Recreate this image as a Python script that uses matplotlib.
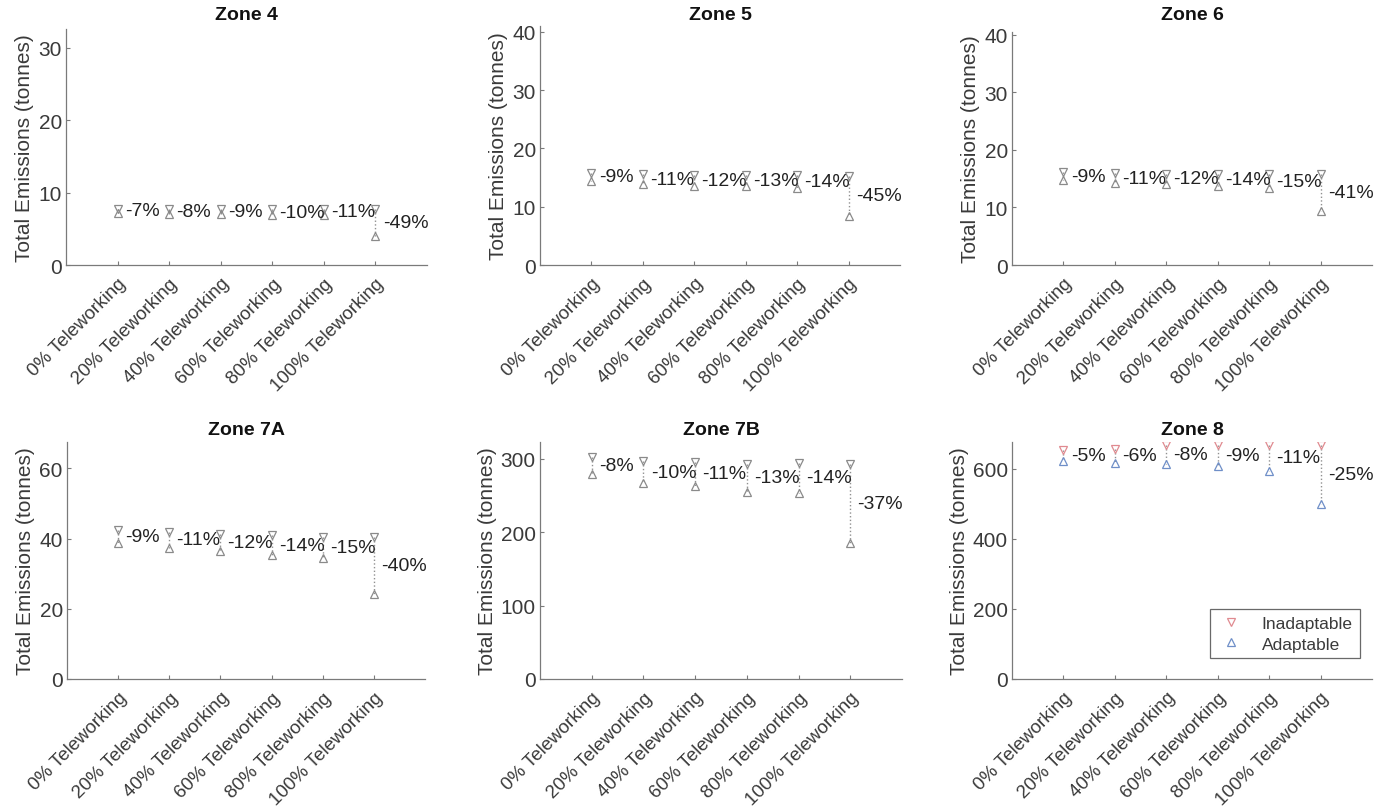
import matplotlib
matplotlib.use("Agg")
import matplotlib.pyplot as plt
from matplotlib.lines import Line2D
from matplotlib.ticker import MultipleLocator

plt.rcParams['font.family'] = ['Liberation Sans', 'DejaVu Sans']

# Scenario labels
scenarios = ["0% Teleworking", "20% Teleworking", "40% Teleworking",
             "60% Teleworking", "80% Teleworking", "100% Teleworking"]

zones = ["Zone 4", "Zone 5", "Zone 6", "Zone 7A", "Zone 7B", "Zone 8"]

# Total emissions (tonnes) per zone, inadaptable vs adaptable commuting
inadaptable_z4 = [7.8, 7.7, 7.7, 7.7, 7.8, 7.8]
adaptable_z4 = [7.25, 7.08, 7.0, 6.93, 6.94, 3.98]
inadaptable_z5 = [15.8, 15.6, 15.5, 15.5, 15.4, 15.3]
adaptable_z5 = [14.4, 13.9, 13.6, 13.5, 13.2, 8.4]
inadaptable_z6 = [16.2, 16.0, 15.9, 15.9, 15.8, 15.8]
adaptable_z6 = [14.7, 14.2, 14.0, 13.7, 13.4, 9.3]
inadaptable_z7a = [42.5, 42.0, 41.4, 40.9, 40.5, 40.5]
adaptable_z7a = [38.7, 37.4, 36.4, 35.2, 34.4, 24.3]
inadaptable_z7b = [303, 297, 296, 293, 295, 293]
adaptable_z7b = [279, 267, 263, 255, 254, 185]
inadaptable_z8 = [655, 657, 668, 668, 668, 668]
adaptable_z8 = [622, 618, 615, 608, 595, 501]

# Percentage change labels
pct_z4 = [-7, -8, -9, -10, -11, -49]
pct_z5 = [-9, -11, -12, -13, -14, -45]
pct_z6 = [-9, -11, -12, -14, -15, -41]
pct_z7a = [-9, -11, -12, -14, -15, -40]
pct_z7b = [-8, -10, -11, -13, -14, -37]
pct_z8 = [-5, -6, -8, -9, -11, -25]

# Axis limits and tick steps
y_top = [32.6, 41, 40.5, 67.5, 323, 677]
y_step = [10, 10, 10, 20, 100, 200]

inadaptable = [inadaptable_z4, inadaptable_z5, inadaptable_z6,
               inadaptable_z7a, inadaptable_z7b, inadaptable_z8]
adaptable = [adaptable_z4, adaptable_z5, adaptable_z6,
             adaptable_z7a, adaptable_z7b, adaptable_z8]
pcts = [pct_z4, pct_z5, pct_z6, pct_z7a, pct_z7b, pct_z8]

W, H = 1380, 812
fig = plt.figure(figsize=(W / 100, H / 100), dpi=100)
fig.patch.set_facecolor("white")

# pixel boxes: left, right, top, bottom
boxes = [(66, 427, 30, 266), (540, 900, 27, 266), (1012, 1372, 33, 266),
         (67, 425, 443, 680), (540, 902, 443, 680), (1012, 1372, 443, 680)]
title_y = [16, 16, 16, 431, 431, 431]

spine_col = "#7a7a7a"
text_col = "#3a3a3a"
gray_mark = "#8a8a8a"
red_mark = "#e08a90"
blue_mark = "#6f8fc8"

x = list(range(1, len(scenarios) + 1))

for i, zone in enumerate(zones):
    l, r, t, b = boxes[i]
    ax = fig.add_axes([l / W, 1 - b / H, (r - l) / W, (b - t) / H])
    ax.set_facecolor("none")
    colored = (zone == "Zone 8")
    c_in = red_mark if colored else gray_mark
    c_ad = blue_mark if colored else gray_mark
    for xi, yi, ya, p in zip(x, inadaptable[i], adaptable[i], pcts[i]):
        ax.plot([xi, xi], [yi, ya], linestyle=":", color="#909090", lw=1.0, zorder=1)
        ax.text(xi + 0.14, (yi + ya) / 2, f"{p}%", ha="left", va="center",
                fontsize=14, color="#222222", zorder=3)
    ax.plot(x, inadaptable[i], linestyle="none", marker="v", markersize=5.5,
            markerfacecolor="none", markeredgecolor=c_in, markeredgewidth=0.9, zorder=2)
    ax.plot(x, adaptable[i], linestyle="none", marker="^", markersize=5.5,
            markerfacecolor="none", markeredgecolor=c_ad, markeredgewidth=0.9, zorder=2)

    ax.set_xlim(0, 7)
    ax.set_ylim(0, y_top[i])
    ax.yaxis.set_major_locator(MultipleLocator(y_step[i]))
    ax.set_xticks(x)
    ax.set_xticklabels(scenarios, rotation=45, ha="right", rotation_mode="anchor",
                       fontsize=13.5, color=text_col)
    ax.tick_params(axis="x", direction="in", length=3, color=spine_col, pad=7)
    ax.tick_params(axis="y", direction="in", length=3, color=spine_col,
                   labelsize=15, labelcolor=text_col, pad=3)
    for s in ("top", "right"):
        ax.spines[s].set_visible(False)
    for s in ("left", "bottom"):
        ax.spines[s].set_color(spine_col)
        ax.spines[s].set_linewidth(0.9)
    ax.set_ylabel("Total Emissions (tonnes)", fontsize=15, color=text_col, labelpad=3)
    fig.text((l + r) / 2 / W, 1 - title_y[i] / H, zone, ha="center", va="center",
             fontsize=14, fontweight="bold", color="#111111")

    if colored:
        handles = [Line2D([], [], linestyle="none", marker="v", markersize=6,
                          markerfacecolor="none", markeredgecolor=red_mark,
                          markeredgewidth=0.9, label="Inadaptable"),
                   Line2D([], [], linestyle="none", marker="^", markersize=6,
                          markerfacecolor="none", markeredgecolor=blue_mark,
                          markeredgewidth=0.9, label="Adaptable")]
        leg = ax.legend(handles=handles, loc="lower right", fontsize=12.5,
                        frameon=True, fancybox=False, borderpad=0.4,
                        handlelength=1.6, handletextpad=1.0, labelspacing=0.3,
                        bbox_to_anchor=(0.99, 0.05))
        leg.get_frame().set_edgecolor("#444444")
        leg.get_frame().set_linewidth(0.9)
        for txt in leg.get_texts():
            txt.set_color(text_col)

fig.savefig("out.png", dpi=100, facecolor="white")
